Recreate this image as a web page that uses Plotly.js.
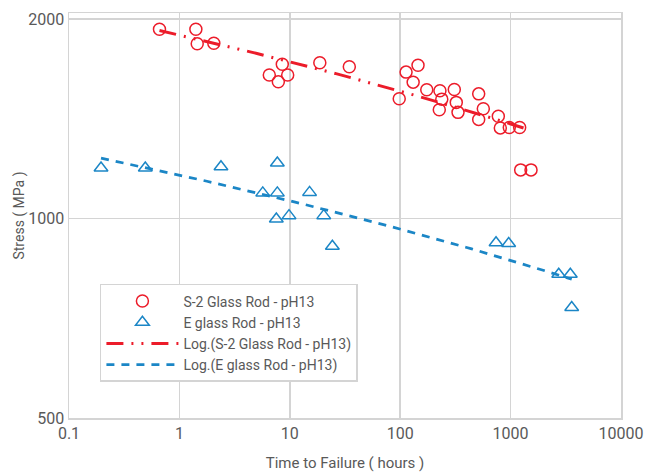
<!DOCTYPE html>
<html>
<head>
<meta charset="utf-8">
<script src="https://cdn.plot.ly/plotly-3.0.1.min.js"></script>
<style>
  html, body { margin: 0; padding: 0; background: #ffffff; }
  #chart { width: 653px; height: 473px; }
</style>
</head>
<body>
<div id="chart"></div>
<script>
// S-2 Glass Rod - pH13 (time to failure in hours, stress in MPa)
const s2Hours = [0.66, 1.41, 1.45, 2.05, 6.52, 7.87, 8.55, 9.57, 18.7, 34.6,
                 98, 113, 131, 145, 174, 226, 229, 238, 309, 322,
                 334, 514, 514, 566, 774, 807, 973, 1208, 1234, 1531];
const s2Stress = [1930, 1930, 1835, 1838, 1646, 1608, 1709, 1646, 1718, 1694,
                  1516, 1663, 1606, 1703, 1564, 1459, 1559, 1514, 1566, 1497,
                  1446, 1542, 1411, 1464, 1427, 1370, 1372, 1372, 1184, 1184];

// E glass Rod - pH13
const eHours = [0.195, 0.491, 2.38, 7.71, 5.69, 7.71, 15.1, 7.55, 9.84, 20.3,
                24.3, 738, 961, 2729, 3475, 3576];
const eStress = [1192, 1192, 1197, 1213, 1093, 1093, 1095, 998, 1010, 1010,
                 908, 919, 917, 824, 824, 734];

const seriesNames = ['S-2 Glass Rod - pH13', 'E glass Rod - pH13'];
const trendNames = ['Log.(S-2 Glass Rod - pH13)', 'Log.(E glass Rod - pH13)'];
const xTicks = [0.1, 1, 10, 100, 1000, 10000];
const xTickText = ['0.1', '1', '10', '100', '1000', '10000'];
const yTicks = [500, 1000, 2000];
const yTickText = ['500', '1000', '2000'];

const RED = '#ec1c2a';
const BLUE = '#1b86c6';
const FONT = '"Roboto", "Liberation Sans", sans-serif';

// Excel-style logarithmic trendline: y = a*ln(x) + b (least squares)
function logTrend(xs, ys, n) {
  const lx = xs.map(Math.log);
  const m = lx.length;
  const mx = lx.reduce((p, c) => p + c, 0) / m;
  const my = ys.reduce((p, c) => p + c, 0) / m;
  let sxy = 0, sxx = 0;
  for (let i = 0; i < m; i++) { sxy += (lx[i] - mx) * (ys[i] - my); sxx += (lx[i] - mx) ** 2; }
  const a = sxy / sxx, b = my - a * mx;
  const lo = Math.min(...lx), hi = Math.max(...lx);
  const tx = [], ty = [];
  for (let i = 0; i <= n; i++) {
    const l = lo + (hi - lo) * i / n;
    tx.push(Math.exp(l)); ty.push(a * l + b);
  }
  return { x: tx, y: ty };
}

const s2Trend = logTrend(s2Hours, s2Stress, 80);
const eTrend = logTrend(eHours, eStress, 80);

const traces = [
  { x: s2Hours, y: s2Stress, name: seriesNames[0], type: 'scatter', mode: 'markers',
    marker: { symbol: 'circle-open', size: 12, color: RED, line: { width: 1.5, color: RED } } },
  { x: eHours, y: eStress, name: seriesNames[1], type: 'scatter', mode: 'markers',
    marker: { symbol: 'triangle-up-open', size: 12, color: BLUE, line: { width: 1.5, color: BLUE } } },
  { x: s2Trend.x, y: s2Trend.y, name: trendNames[0], type: 'scatter', mode: 'lines',
    line: { color: RED, width: 3, dash: '17px,8px,2px,8px,2px,8px' } },
  { x: eTrend.x, y: eTrend.y, name: trendNames[1], type: 'scatter', mode: 'lines',
    line: { color: BLUE, width: 2.75, dash: '8px,7px' } }
];

const layout = {
  width: 653, height: 473,
  margin: { l: 69, r: 32, t: 13, b: 55 },
  paper_bgcolor: '#ffffff', plot_bgcolor: '#ffffff',
  font: { family: FONT, color: '#595959', size: 15 },
  showlegend: true,
  xaxis: {
    type: 'log', range: [-1, 4],
    tickvals: xTicks, ticktext: xTickText,
    showgrid: true, gridcolor: '#d4d4d4', gridwidth: 1.5,
    showline: true, linecolor: '#d4d4d4', linewidth: 1.5, mirror: true,
    ticks: '', zeroline: false,
    tickfont: { family: FONT, size: 16, color: '#595959' },
    title: { text: 'Time to Failure ( hours )', font: { family: FONT, size: 15, color: '#595959' }, standoff: 16 }
  },
  yaxis: {
    type: 'log', range: [Math.log10(500), 3.3101],
    tickvals: yTicks, ticktext: yTickText,
    showgrid: true, gridcolor: '#d4d4d4', gridwidth: 1.5,
    showline: true, linecolor: '#d4d4d4', linewidth: 1.5, mirror: true,
    ticks: '', zeroline: false,
    tickfont: { family: FONT, size: 16, color: '#595959' },
    title: { text: 'Stress ( MPa )', font: { family: FONT, size: 14, color: '#595959' }, standoff: 0 }
  },
  legend: {
    x: 0.056, y: 0.331, xanchor: 'left', yanchor: 'top',
    bgcolor: '#ffffff', bordercolor: '#d4d4d4', borderwidth: 1.5,
    font: { family: FONT, size: 14, color: '#595959' },
    itemwidth: 72
  }
};

Plotly.newPlot('chart', traces, layout, { displayModeBar: false, staticPlot: true });
</script>
</body>
</html>
